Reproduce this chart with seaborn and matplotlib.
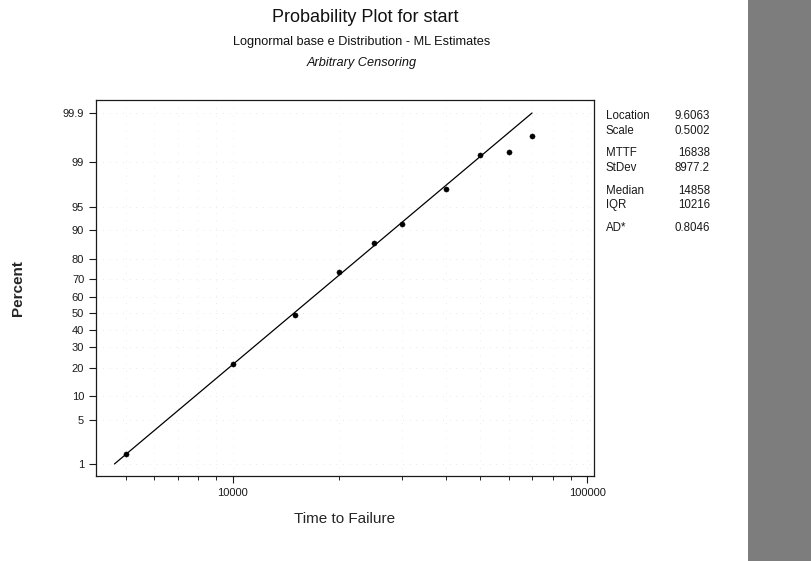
import numpy as np
import pandas as pd
import seaborn as sns
import matplotlib.pyplot as plt
from matplotlib.patches import Rectangle
from statistics import NormalDist

# dados
tempo = [5000, 10000, 15000, 20000, 25000, 30000, 40000, 50000, 60000, 70000]
percentual = [1.5, 21.5, 48.8, 73.6, 86.0, 91.6, 97.2, 99.27, 99.36, 99.69]

# reta ajustada (extremos)
ajuste_tempo = [4644, 69900]
ajuste_pct = [1.0, 99.9]

y_ticks = [1, 5, 10, 20, 30, 40, 50, 60, 70, 80, 90, 95, 99, 99.9]
y_labels = ['1', '5', '10', '20', '30', '40', '50', '60', '70', '80', '90', '95', '99', '99.9']

stat_nomes = ['Location', 'Scale', 'MTTF', 'StDev', 'Median', 'IQR', 'AD*']
stat_valores = ['9.6063', '0.5002', '16838', '8977.2', '14858', '10216', '0.8046']

sns.set_style('ticks')
plt.rcParams['font.family'] = ['Liberation Sans', 'DejaVu Sans']

# escala de probabilidade normal
nd = NormalDist()
_ppf = np.vectorize(nd.inv_cdf, otypes=[float])
_cdf = np.vectorize(nd.cdf, otypes=[float])


def para_z(p):
    p = np.clip(np.asarray(p, dtype=float), 1e-6, 100 - 1e-6) / 100
    return _ppf(p)


def de_z(z):
    return 100 * _cdf(np.asarray(z, dtype=float))


fig = plt.figure(figsize=(8.12, 5.61), dpi=100)
ax = fig.add_axes([96 / 812, 85 / 561, 498 / 812, 376 / 561])

ax.set_xscale('log')
ax.set_yscale('function', functions=(para_z, de_z))

df = pd.DataFrame({'tempo': tempo, 'pct': percentual})
ajuste = pd.DataFrame({'tempo': ajuste_tempo, 'pct': ajuste_pct})

sns.lineplot(data=ajuste, x='tempo', y='pct', ax=ax, color='black', linewidth=0.9)
sns.scatterplot(data=df, x='tempo', y='pct', ax=ax, color='black', s=14,
                edgecolor='black', linewidth=0.3, zorder=3)

ax.set_xlim(4120, 104500)
ax.set_ylim(0.6, 99.95)

ax.set_yticks(y_ticks)
ax.set_yticklabels(y_labels)
ax.yaxis.set_minor_locator(plt.NullLocator())

ax.set_xticks([10000, 100000])
ax.set_xticklabels(['10000', '100000'])
minor = [5000, 6000, 7000, 8000, 9000, 20000, 30000, 40000, 50000, 60000, 70000, 80000, 90000]
ax.set_xticks(minor, minor=True)
ax.set_xticklabels([], minor=True)

ax.tick_params(axis='both', which='major', direction='out', length=5, width=0.8,
               labelsize=8, colors='#1a1a1a')
ax.tick_params(axis='x', which='minor', direction='out', length=3, width=0.7)

# grade pontilhada quase invisivel
ax.grid(True, which='major', axis='y', color='#e2e2e2', linestyle=(0, (1, 7)), linewidth=0.6)
ax.grid(True, which='both', axis='x', color='#e6e6e6', linestyle=(0, (1, 8)), linewidth=0.6)

for s in ax.spines.values():
    s.set_linewidth(0.9)
    s.set_color('#1a1a1a')

ax.set_xlabel('Time to Failure', fontsize=11, labelpad=10)
ax.set_ylabel('Percent', fontsize=11, fontweight='bold')
ax.yaxis.set_label_coords(-0.1426, 0.5)

# titulos
fig.text(365 / 812, 1 - 18 / 561, 'Probability Plot for start', ha='center', va='center',
         fontsize=13, color='#111111')
fig.text(362 / 812, 1 - 42 / 561, 'Lognormal base e Distribution - ML Estimates',
         ha='center', va='center', fontsize=9.2, color='#111111')
fig.text(362 / 812, 1 - 63 / 561, 'Arbitrary Censoring', ha='center', va='center',
         fontsize=9.2, style='italic', color='#111111')

# tabela de estatisticas
linhas_y = [116, 131, 153, 168, 191, 205, 228]
for nome, valor, yy in zip(stat_nomes, stat_valores, linhas_y):
    fig.text(606 / 812, 1 - yy / 561, nome, ha='left', va='center', fontsize=8.3, color='#1a1a1a')
    fig.text(710 / 812, 1 - yy / 561, valor, ha='right', va='center', fontsize=8.3, color='#1a1a1a')

# faixa cinza da digitalizacao a direita
fig.patches.append(Rectangle((748 / 812, 0), 64 / 812, 1, transform=fig.transFigure,
                             facecolor='#7d7d7d', edgecolor='none', zorder=0))

fig.savefig('out.png', dpi=100)
